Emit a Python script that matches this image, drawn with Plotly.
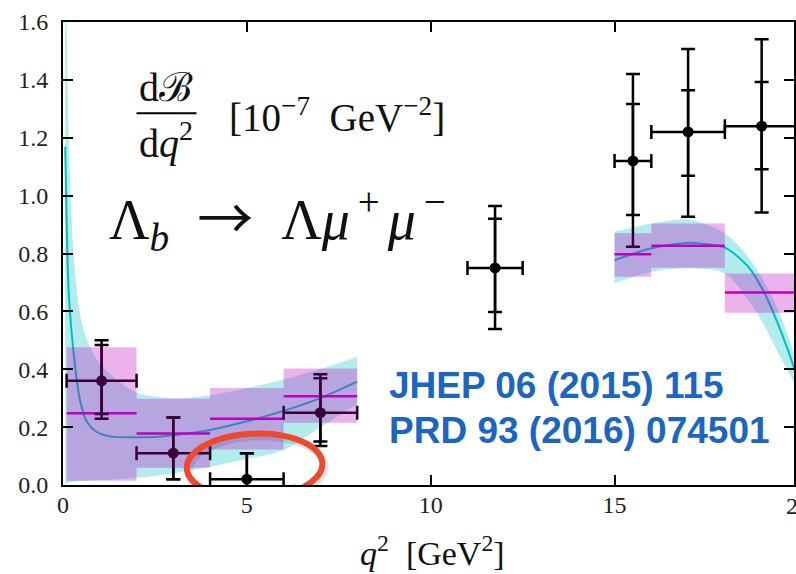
import numpy as np
import plotly.graph_objects as go

# ---- measured differential branching fraction (LHCb), q^2 bins in GeV^2 ----
meas_lo = [0.1, 2.0, 4.0, 6.0, 11.0, 15.0, 16.0, 18.0]
meas_hi = [2.0, 4.0, 6.0, 8.0, 12.5, 16.0, 18.0, 20.0]
meas_val = [0.36, 0.11, 0.02, 0.25, 0.75, 1.12, 1.22, 1.24]
meas_tot_up = [0.14, 0.123, 0.09, 0.133, 0.214, 0.30, 0.287, 0.30]
meas_tot_dn = [0.131, 0.09, 0.05, 0.115, 0.211, 0.297, 0.293, 0.298]
meas_stat_up = [0.124, 0.123, 0.09, 0.119, 0.17, 0.197, 0.144, 0.153]
meas_stat_dn = [0.115, 0.09, 0.05, 0.10, 0.152, 0.187, 0.151, 0.149]

# ---- lattice QCD binned predictions ----
pred_lo = [0.1, 2.0, 4.0, 6.0, 15.0, 16.0, 18.0]
pred_hi = [2.0, 4.0, 6.0, 8.0, 16.0, 18.0, 20.0]
pred_val = [0.248, 0.178, 0.229, 0.307, 0.797, 0.827, 0.665]
pred_top = [0.476, 0.298, 0.335, 0.403, 0.870, 0.904, 0.731]
pred_bot = [0.015, 0.060, 0.123, 0.215, 0.720, 0.751, 0.595]

# ---- continuous SM prediction and its uncertainty band ----
curve_q2_low = [0.06, 0.10, 0.15, 0.24, 0.33, 0.45, 0.64, 0.90, 1.27, 2.0,
                2.5, 3.0, 4.0, 5.0, 6.0, 7.0, 8.0]
curve_low = [1.17, 0.90, 0.68, 0.52, 0.41, 0.30, 0.22, 0.185, 0.168, 0.165,
             0.166, 0.172, 0.19, 0.22, 0.256, 0.30, 0.357]

band_q2_low = [0.06, 0.10, 0.145, 0.235, 0.30, 0.45, 0.60, 0.80, 1.0, 1.5,
               2.0, 3.0, 4.0, 5.0, 6.0, 7.0, 8.0]
band_up_low = [1.9, 1.6, 1.26, 0.92, 0.78, 0.60, 0.52, 0.46, 0.42, 0.36,
               0.32, 0.30, 0.31, 0.335, 0.365, 0.40, 0.443]
band_dn_low = [0.0, 0.005, 0.008, 0.010, 0.012, 0.014, 0.015, 0.016, 0.017, 0.020,
               0.025, 0.040, 0.063, 0.090, 0.121, 0.200, 0.280]

curve_q2_high = [15.0, 16.0, 17.0, 17.28, 18.0, 18.63, 19.09, 19.45, 19.72, 19.88, 20.0]
curve_high = [0.777, 0.818, 0.837, 0.835, 0.820, 0.755, 0.660, 0.555, 0.465, 0.405, 0.36]
band_up_high = [0.875, 0.904, 0.918, 0.910, 0.870, 0.789, 0.697, 0.605, 0.515, 0.455, 0.42]
band_dn_high = [0.697, 0.737, 0.749, 0.748, 0.731, 0.640, 0.547, 0.455, 0.394, 0.355, 0.33]

x_ticks = [0, 5, 10, 15]
y_ticks = [0.0, 0.2, 0.4, 0.6, 0.8, 1.0, 1.2, 1.4, 1.6]

SERIF = "Liberation Serif, Times New Roman, serif"
CYAN = "rgb(0,191,191)"
CYAN_FILL = "rgba(0,191,191,0.3)"
MAG = "rgb(191,0,191)"
MAG_FILL = "rgba(191,0,191,0.3)"

fig = go.Figure()

# uncertainty band of the continuous prediction
for q2, lo, hi in [(band_q2_low, band_dn_low, band_up_low),
                   (curve_q2_high, band_dn_high, band_up_high)]:
    fig.add_trace(go.Scatter(x=q2, y=lo, mode="lines", line=dict(width=0, shape="spline"),
                             hoverinfo="skip"))
    fig.add_trace(go.Scatter(x=q2, y=hi, mode="lines", line=dict(width=0, shape="spline"),
                             fill="tonexty", fillcolor=CYAN_FILL, hoverinfo="skip"))

# central curve
for q2, val in [(curve_q2_low, curve_low), (curve_q2_high, curve_high)]:
    fig.add_trace(go.Scatter(x=q2, y=val, mode="lines",
                             line=dict(color=CYAN, width=2, shape="spline", smoothing=0.8)))

# binned prediction central values
seg_x, seg_y = [], []
for lo, hi, v in zip(pred_lo, pred_hi, pred_val):
    seg_x += [lo, hi, None]
    seg_y += [v, v, None]
fig.add_trace(go.Scatter(x=seg_x, y=seg_y, mode="lines", line=dict(color=MAG, width=2.5)))

# measured points: total uncertainty with markers, plus statistical-only caps
mid = [(a + b) / 2 for a, b in zip(meas_lo, meas_hi)]
half = [(b - a) / 2 for a, b in zip(meas_lo, meas_hi)]
fig.add_trace(go.Scatter(
    x=mid, y=meas_val, mode="markers",
    marker=dict(color="black", size=11),
    error_x=dict(type="data", array=half, symmetric=True, color="black", thickness=2.5, width=7),
    error_y=dict(type="data", array=meas_tot_up, arrayminus=meas_tot_dn, symmetric=False,
                 color="black", thickness=2.5, width=7),
))
fig.add_trace(go.Scatter(
    x=mid, y=meas_val, mode="markers",
    marker=dict(color="rgba(0,0,0,0)", size=1),
    error_y=dict(type="data", array=meas_stat_up, arrayminus=meas_stat_dn, symmetric=False,
                 color="black", thickness=2.5, width=7),
))

# binned prediction uncertainty boxes
box_x, box_y = [], []
for lo, hi, t, b in zip(pred_lo, pred_hi, pred_top, pred_bot):
    box_x += [lo, hi, hi, lo, lo, None]
    box_y += [b, b, t, t, b, None]
fig.add_trace(go.Scatter(x=box_x, y=box_y, mode="lines", fill="toself",
                         fillcolor=MAG_FILL, line=dict(width=0)))

# hand-drawn style circle around the 4-6 GeV^2 bin
def ring(cx, cy, rx, ry, shear, t0, t1, shrink, n=90):
    t = np.linspace(np.radians(t0), np.radians(t1), n)
    f = 1.0 - shrink * np.clip((t - t[0]) / (t[-1] - t[0]) - 0.8, 0, None) / 0.2
    dx = rx * f * np.cos(t)
    dy = ry * f * np.sin(t)
    xs = cx + dx + shear * dy / ry * rx
    ys = cy + dy
    return "M " + " L ".join(f"{a:.4f},{b:.4f}" for a, b in zip(xs, ys))

fig.add_shape(type="path", path=ring(5.27, 0.056, 1.84, 0.112, 0.06, -40, 315, 0.08),
              xref="x", yref="y", line=dict(color="rgba(0,0,0,0.10)", width=8), layer="above")
fig.add_shape(type="path", path=ring(5.21, 0.066, 1.84, 0.112, 0.06, -40, 315, 0.08),
              xref="x", yref="y", line=dict(color="rgb(240,72,45)", width=6), layer="above")

# fraction bar of dB/dq^2
fig.add_shape(type="line", x0=2.0, x1=3.63, y0=1.285, y1=1.285, xref="x", yref="y",
              line=dict(color="black", width=2), layer="above")

ARROW = "<span style='font-family:Noto Sans CJK JP'>\u2192</span>"
annotations = [
    dict(x=2.81, y=1.372, text="d\u212C", font=dict(family=SERIF, size=40, color="#111")),
    dict(x=2.81, y=1.19, text="d<i>q</i><sup>2</sup>", font=dict(family=SERIF, size=40, color="#111")),
    dict(x=4.45, y=1.28, xanchor="left",
         text="[10<sup>\u22127</sup>\u00a0\u00a0GeV<sup>\u22122</sup>]",
         font=dict(family=SERIF, size=39, color="#111")),
    dict(x=1.19, y=0.928, xanchor="left",
         text="\u039B<sub><i>b</i></sub>\u2002" + ARROW + "\u2002\u039B<i>\u03BC</i>"
              "<sup>\u2009+\u2009</sup><i>\u03BC</i><sup>\u2009\u2212</sup>",
         font=dict(family=SERIF, size=56, color="#111")),
    dict(x=8.82, y=0.345, xanchor="left", text="<b>JHEP 06 (2015) 115</b>",
         font=dict(family="Liberation Sans, Arial, sans-serif", size=37, color="#1a66c2")),
    dict(x=8.82, y=0.19, xanchor="left", text="<b>PRD 93 (2016) 074501</b>",
         font=dict(family="Liberation Sans, Arial, sans-serif", size=37, color="#1a66c2")),
    # x-axis title
    dict(x=0.506, y=-0.142, xref="paper", yref="paper",
         text="<i>q</i><sup>2</sup>\u00a0\u00a0[GeV<sup>2</sup>]",
         font=dict(family=SERIF, size=34, color="#111")),
    # last tick label, sitting at the right edge
    dict(x=20 / 19.88, y=-0.045, xref="paper", yref="paper", text="20",
         font=dict(family=SERIF, size=24, color="#222")),
]
for a in annotations:
    a.setdefault("xref", "x")
    a.setdefault("yref", "y")
    a.setdefault("showarrow", False)
    a.setdefault("xanchor", "center")
    a.setdefault("yanchor", "middle")

axis_common = dict(showline=True, linewidth=2, linecolor="black", mirror="ticks",
                   ticks="inside", ticklen=10, tickwidth=1.5, tickcolor="black",
                   showgrid=False, zeroline=False,
                   tickfont=dict(family=SERIF, size=24, color="#222"))

fig.update_layout(
    width=796, height=574,
    margin=dict(l=63, r=0, t=22, b=89),
    paper_bgcolor="white", plot_bgcolor="white",
    showlegend=False,
    xaxis=dict(range=[0, 19.88], tickvals=x_ticks, ticktext=[str(v) for v in x_ticks],
               ticklabelstandoff=-3, **axis_common),
    yaxis=dict(range=[0, 1.6], tickvals=y_ticks, ticktext=[f"{v:.1f}" for v in y_ticks],
               ticklabelstandoff=8, **axis_common),
    annotations=annotations,
)

fig.write_html("out.html")
